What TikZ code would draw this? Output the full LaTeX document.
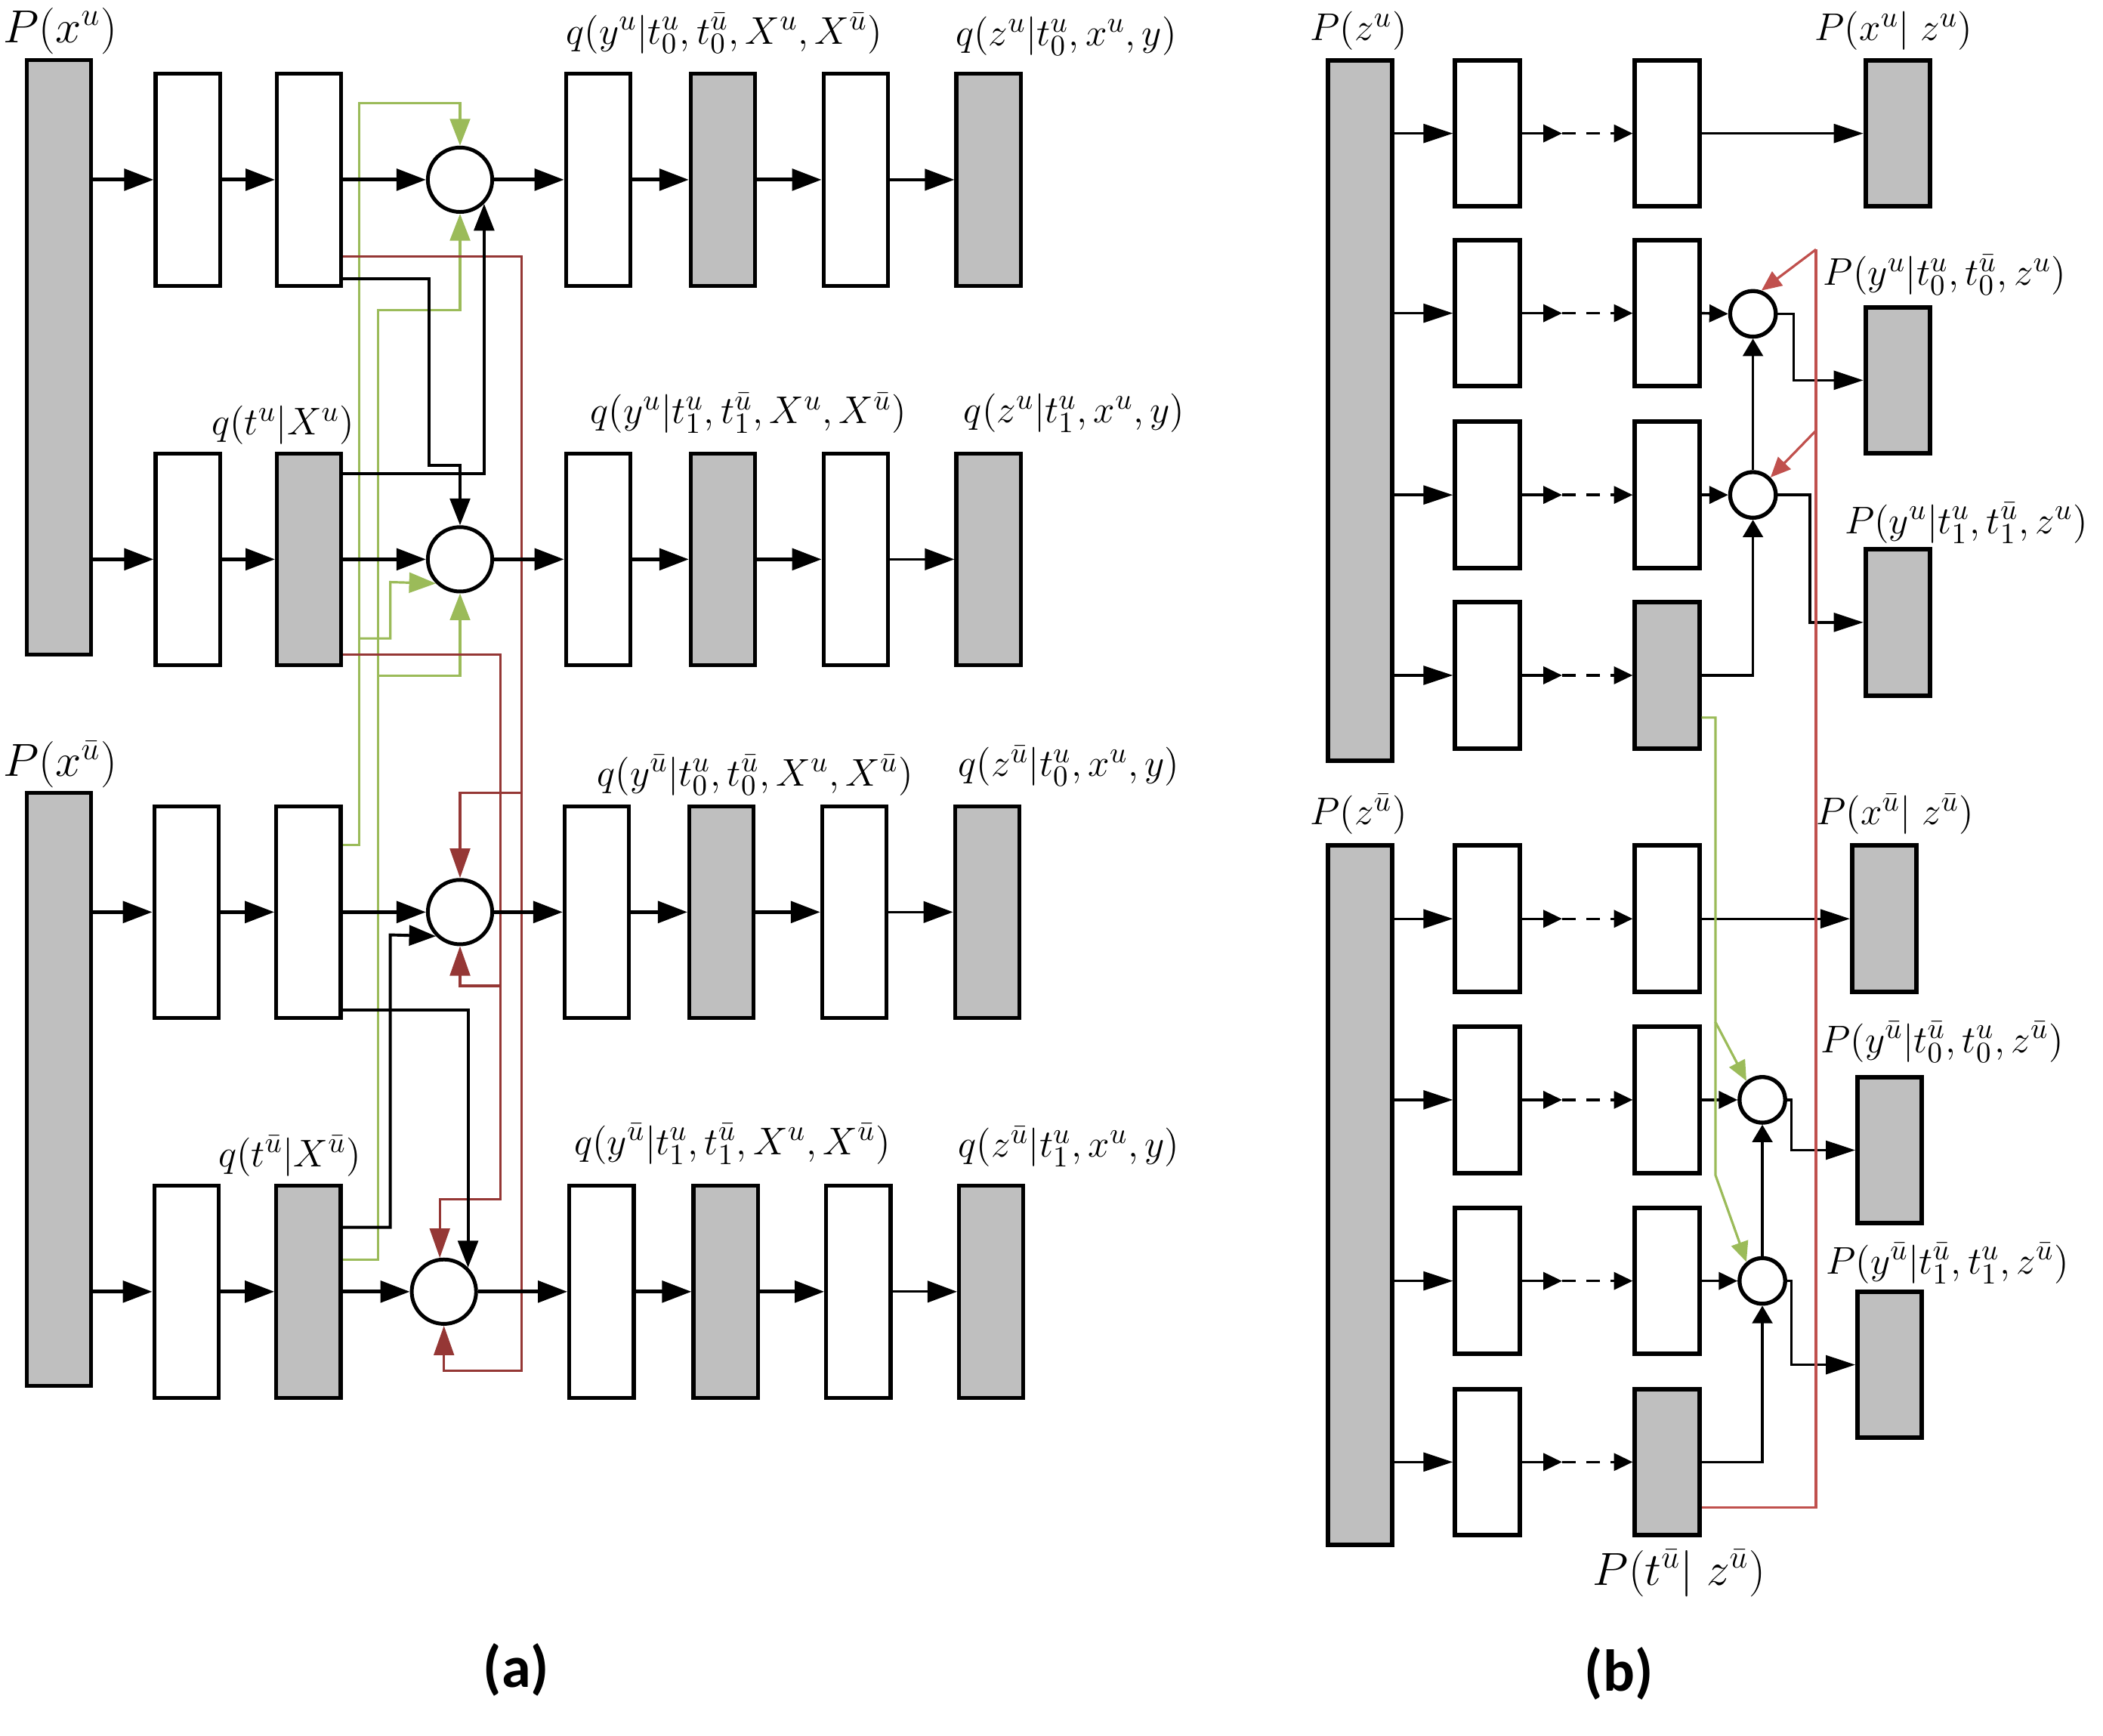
\documentclass[tikz,border=0pt]{standalone}
\usepackage{fontspec}
\newfontfamily\labfont{Carlito}
\usetikzlibrary{arrows.meta,calc}
\definecolor{boxgray}{HTML}{BFBFBF}
\definecolor{grn}{HTML}{9BBB59}
\definecolor{dred}{HTML}{953735}
\definecolor{lred}{HTML}{C0504D}
\begin{document}
\begin{tikzpicture}[x=0.5pt,y=-0.5pt,
  wbox/.style={draw,line width=1.45pt,fill=white,minimum width=24pt,minimum height=79pt,inner sep=0pt},
  gbox/.style={wbox,fill=boxgray},
  wboxb/.style={draw,line width=1.7pt,fill=white,minimum width=24pt,minimum height=54.5pt,inner sep=0pt},
  gboxb/.style={wboxb,fill=boxgray},
  circ/.style={circle,draw,line width=1.4pt,fill=white,minimum size=24pt,inner sep=0pt},
  circb/.style={circle,draw,line width=1.5pt,fill=white,minimum size=17pt,inner sep=0pt},
  mainarr/.style={line width=1.4pt,-{Triangle[length=11pt,width=8pt]}},
  thinarr/.style={line width=0.9pt,-{Triangle[length=11pt,width=8pt]}},
  wirek/.style={line width=1.1pt,-{Triangle[length=10pt,width=7.5pt]}},
  wireg/.style={draw=grn,line width=0.9pt,-{Triangle[length=10pt,width=7.5pt]}},
  wirer/.style={draw=dred,line width=0.9pt,-{Triangle[length=11pt,width=7.5pt]}},
  lab/.style={font=\fontsize{15}{18}\selectfont,inner sep=0pt},
  labbig/.style={font=\fontsize{17}{20}\selectfont,inner sep=0pt},
  barr/.style={line width=0.95pt,-{Triangle[length=11pt,width=7pt]}},
  sarr/.style={line width=0.95pt,-{Triangle[length=7pt,width=6.5pt]}},
  uarr/.style={line width=0.95pt,-{Triangle[length=6.5pt,width=7.5pt]}},
  dashl/.style={line width=0.95pt,dash pattern=on 5pt off 4pt},
  redb/.style={draw=lred,line width=0.9pt},
  redba/.style={redb,-{Triangle[length=7.5pt,width=6.5pt]}},
  grnb/.style={draw=grn,line width=0.9pt},
  grnba/.style={grnb,-{Triangle[length=7.5pt,width=6.5pt]}},
  captxt/.style={font=\labfont\bfseries\fontsize{22}{26}\selectfont,inner sep=0pt}
]
\path[use as bounding box] (0,0) rectangle (1568,1294);

% ================= (a) =================
\node[gbox,minimum height=221.5pt] (xa) at (44,266.5) {};
\node[gbox,minimum height=221pt] (xb) at (44,812) {};

\node[wbox] (a11) at (140,134) {};
\node[wbox] (a12) at (230.5,134) {};
\node[circ] (ca1) at (343,134) {};
\node[wbox] (a13) at (446,134) {};
\node[gbox] (a14) at (539,134) {};
\node[wbox] (a15) at (638,134) {};
\node[gbox] (a16) at (737,134) {};

\node[wbox] (a21) at (140,417) {};
\node[gbox] (a22) at (230.5,417) {};
\node[circ] (ca2) at (343,417) {};
\node[wbox] (a23) at (446,417) {};
\node[gbox] (a24) at (539,417) {};
\node[wbox] (a25) at (638,417) {};
\node[gbox] (a26) at (737,417) {};

\node[wbox] (a31) at (139,680) {};
\node[wbox] (a32) at (230,680) {};
\node[circ] (ca3) at (343,680) {};
\node[wbox] (a33) at (445,680) {};
\node[gbox] (a34) at (538,680) {};
\node[wbox] (a35) at (637,680) {};
\node[gbox] (a36) at (736,680) {};

\node[wbox] (a41) at (139,963) {};
\node[gbox] (a42) at (230,963) {};
\node[circ] (ca4) at (331,963) {};
\node[wbox] (a43) at (448.5,963) {};
\node[gbox] (a44) at (541,963) {};
\node[wbox] (a45) at (640,963) {};
\node[gbox] (a46) at (739,963) {};

% labels (a)
\node[labbig] (lxa) at (45,23) {$P(x^{u})$};
\node[lab] (l13) at (540,25) {$q(y^{u}|t_0^{u},t_0^{\bar u},X^{u},X^{\bar u})$};
\node[lab] (l16) at (795,27) {$q(z^{u}|t_0^{u},x^{u},y)$};
\node[lab] (l22) at (211,317) {$q(t^{u}|X^{u})$};
\node[lab] (l23) at (558,308) {$q(y^{u}|t_1^{u},t_1^{\bar u},X^{u},X^{\bar u})$};
\node[lab] (l26) at (801,308) {$q(z^{u}|t_1^{u},x^{u},y)$};
\node[labbig] (lxb) at (45,570) {$P(x^{\bar u})$};
\node[lab] (l33) at (563,578) {$q(y^{\bar u}|t_0^{u},t_0^{\bar u},X^{u},X^{\bar u})$};
\node[lab] (l36) at (797,571) {$q(z^{\bar u}|t_0^{u},x^{u},y)$};
\node[lab] (l42) at (216,862) {$q(t^{\bar u}|X^{\bar u})$};
\node[lab] (l43) at (546,853) {$q(y^{\bar u}|t_1^{u},t_1^{\bar u},X^{u},X^{\bar u})$};
\node[lab] (l46) at (797,855) {$q(z^{\bar u}|t_1^{u},x^{u},y)$};
\node[captxt] (capa) at (385,1245) {(a)};

% green wires (a)
\coordinate (g1b) at (268,476);
\coordinate (g2b) at (282,504);
\draw[wireg] (a32.east|-0,630) -| (268,77) -| (ca1.north);
\draw[wireg] (g1b) -- (291,476) -- (291,434) -- (ca2.-135);
\draw[wireg] (a42.east|-0,939) -| (282,231) -| (ca1.south);
\draw[wireg] (g2b) -| (ca2.south);

% red wires (a)
\coordinate (r1b) at (389,591);
\coordinate (r2b) at (373,735);
\draw[wirer] (a12.east|-0,191) -| (389,1022) -| (ca4.south);
\draw[wirer] (r1b) -| (ca3.north);
\draw[wirer] (a22.east|-0,488) -| (373,894) -| (ca4.97);
\draw[wirer] (r2b) -| (ca3.south);

% black wires (a)
\draw[wirek] (a12.east|-0,208) -- (320,208) -- (320,347) -| (ca2.north);
\draw[wirek] (a22.east|-0,353) -| (ca1.-45);
\draw[wirek] (a32.east|-0,753) -| (ca4.45);
\draw[wirek] (a42.east|-0,915) -| (291,697) -- (ca3.-135);

% main arrows (a)
\foreach \r/\x in {1/xa,2/xa,3/xb,4/xb}{
  \draw[mainarr] (\x.east|-a\r1.west) -- (a\r1.west);
  \draw[mainarr] (a\r1.east) -- (a\r2.west);
  \draw[mainarr] (a\r2.east) -- (ca\r.west);
  \draw[mainarr] (ca\r.east) -- (a\r3.west);
  \draw[mainarr] (a\r3.east) -- (a\r4.west);
  \draw[mainarr] (a\r4.east) -- (a\r5.west);
  \draw[thinarr] (a\r5.east) -- (a\r6.west);
}

% ================= (b) =================
\node[gboxb,minimum height=261pt] (zu) at (1014,306) {};
\node[gboxb,minimum height=261pt] (zb) at (1014,891) {};

\foreach \r/\y in {1/99.5,2/233.5,3/369,4/503.5,5/685,6/820,7/955,8/1090}{
  \node[wboxb] (b\r1) at (1109,\y) {};
}
\foreach \r/\y in {1/99.5,2/233.5,3/369,5/685,6/820,7/955}{
  \node[wboxb] (b\r2) at (1243,\y) {};
}
\node[gboxb] (b42) at (1243,503.5) {};
\node[gboxb] (b82) at (1243,1090) {};

\node[circb] (cb2) at (1307,234) {};
\node[circb] (cb3) at (1307,369) {};
\node[circb] (cb6) at (1314,820) {};
\node[circb] (cb7) at (1314,955) {};

\node[gboxb] (o1) at (1415,99.5) {};
\node[gboxb] (o2) at (1415,283.5) {};
\node[gboxb] (o3) at (1415,464) {};
\node[gboxb] (o5) at (1405,685) {};
\node[gboxb] (o6) at (1409,857.5) {};
\node[gboxb] (o7) at (1409,1017.5) {};

% labels (b)
\node[lab] (lzu) at (1013,23) {$P(z^{u})$};
\node[lab] (lo1) at (1412,23) {$P(x^{u}|\;z^{u})$};
\node[lab] (lo2) at (1450,205) {$P(y^{u}|t_0^{u},t_0^{\bar u},z^{u})$};
\node[lab] (lo3) at (1466,390) {$P(y^{u}|t_1^{u},t_1^{\bar u},z^{u})$};
\node[lab] (lzb) at (1013,607) {$P(z^{\bar u})$};
\node[lab] (lo5) at (1413,607) {$P(x^{\bar u}|\;z^{\bar u})$};
\node[lab] (lo6) at (1448,777) {$P(y^{\bar u}|t_0^{\bar u},t_0^{u},z^{\bar u})$};
\node[lab] (lo7) at (1452,942) {$P(y^{\bar u}|t_1^{\bar u},t_1^{u},z^{\bar u})$};
\node[labbig] (lt) at (1252,1173) {$P(t^{\bar u}|\;z^{\bar u})$};
\node[captxt] (capb) at (1207,1248) {(b)};

% row chains (b)
\foreach \r/\z in {1/zu,2/zu,3/zu,4/zu,5/zb,6/zb,7/zb,8/zb}{
  \draw[barr] (\z.east|-b\r1.west) -- (b\r1.west);
  \draw[sarr] (b\r1.east) -- ($(b\r1.east)+(30,0)$);
  \draw[dashl] ($(b\r1.east)+(30,0)$) -- ($(b\r2.west)+(-12,0)$);
  \draw[sarr] ($(b\r2.west)+(-12,0)$) -- (b\r2.west);
}
\draw[barr] (b12.east) -- (o1.west);
\draw[barr] (b52.east) -- (o5.west);
\draw[sarr] (b22.east) -- (cb2.west);
\draw[sarr] (b32.east) -- (cb3.west);
\draw[sarr] (b62.east) -- (cb6.west);
\draw[sarr] (b72.east) -- (cb7.west);
\draw[barr] (cb2.east) -- ++(12,0) |- (o2.west);
\draw[barr] (cb3.east) -- ++(24,0) |- (o3.west);
\draw[barr] (cb6.east) -- ++(3,0) |- (o6.west);
\draw[barr] (cb7.east) -- ++(3,0) |- (o7.west);
\draw[uarr] (b42.east) -| (cb3.south);
\draw[uarr] (cb3.north) -- (cb2.south);
\draw[uarr] (b82.east) -| (cb7.south);
\draw[uarr] (cb7.north) -- (cb6.south);

% red (b)
\coordinate (rt) at (1354,186);
\coordinate (rm) at (1354,321);
\draw[redb] (b82.east|-0,1124) -| (rt);
\draw[redba] (rt) -- (cb2.70);
\draw[redba] (rm) -- (cb3.45);

% green (b)
\coordinate (gk) at (1279,762);
\draw[grnba] (b42.east|-0,535) -| (gk) -- (cb6.130);
\draw[grnba] (gk) -- (1279,876) -- (cb7.130);
\end{tikzpicture}
\end{document}
